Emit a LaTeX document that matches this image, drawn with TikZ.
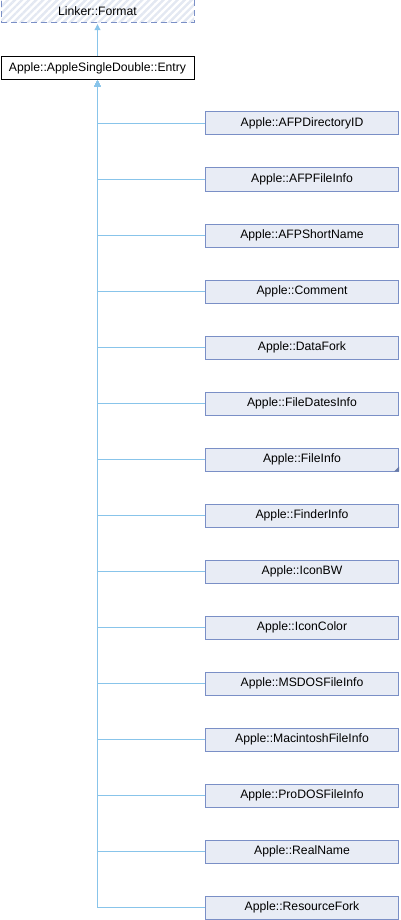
\documentclass[tikz,border=0pt]{standalone}
\usepackage{fontspec}
\setmainfont{Liberation Sans}
\usetikzlibrary{arrows.meta,patterns.meta}
\definecolor{boxfill}{HTML}{E8ECF5}
\definecolor{boxline}{HTML}{7A8FC6}
\definecolor{edgecol}{HTML}{88C4EA}
\definecolor{hatch}{HTML}{E3E8F2}
\tikzset{
  basefont/.style={font=\fontsize{12.2}{14}\selectfont},
  cls/.style={rectangle, draw=boxline, fill=boxfill, line width=1pt, minimum width=193pt, minimum height=23pt, inner sep=0pt, basefont},
  rootcls/.style={rectangle, draw=black, fill=white, line width=1pt, minimum width=193pt, minimum height=23pt, inner sep=0pt, basefont},
  extcls/.style={rectangle, draw=boxline, dash pattern=on 6pt off 4pt, line width=1pt, minimum width=193pt, minimum height=23pt, inner sep=0pt, basefont,
     pattern={Lines[angle=45,distance=5pt,line width=2.4pt]}, pattern color=hatch},
  edge/.style={draw=edgecol, line width=1pt, -{Triangle[width=6pt,length=6pt]}},
}
\begin{document}
\begin{tikzpicture}[x=1pt,y=-1pt]
\useasboundingbox (0,0) rectangle (400,920);
\node[extcls] (fmt) at (97.5,11.5) {Linker::Format};
\node[rootcls] (entry) at (97.5,68.5) {Apple::AppleSingleDouble::Entry};
\draw[edge] (entry.north) -- (fmt.south);
\foreach \i/\t in {0/AFPDirectoryID,1/AFPFileInfo,2/AFPShortName,3/Comment,4/DataFork,5/FileDatesInfo,6/FileInfo,7/FinderInfo,8/IconBW,9/IconColor,10/MSDOSFileInfo,11/MacintoshFileInfo,12/ProDOSFileInfo,13/RealName,14/ResourceFork}{
  \node[cls] (c\i) at (302,123.5+56*\i) {Apple::\t};
  \draw[edge] (c\i.west) -| (entry.south);
}
\fill[boxline!85!black] (c6.south east) -- ++(0,-5) -- ++(-5,5) -- cycle;
\end{tikzpicture}
\end{document}
